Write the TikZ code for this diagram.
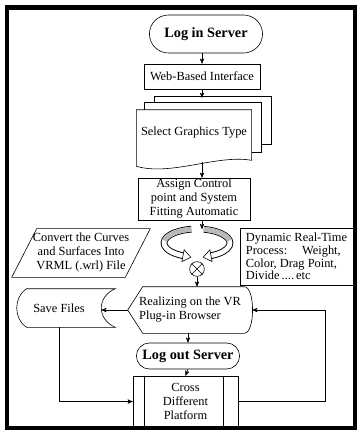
\documentclass[tikz,border=0pt]{standalone}
\usepackage{fontspec}
\setmainfont{Liberation Serif}
\usepackage{tikz}
\usetikzlibrary{arrows, shapes}
\usetikzlibrary{positioning}
\usetikzlibrary{calc}

\begin{document}
\begin{tikzpicture}[->,>=stealth',x=0.75pt,y=-0.75pt,line width=0.45pt,
		font=\fontsize{9.3}{10.5}\selectfont]
		\tikzstyle{box}=[draw,rectangle,align=center,inner sep=1pt]
		\tikzstyle{terminal}=[draw,rounded rectangle,font=\fontsize{10.7}{12}\selectfont\bfseries]
		\tikzstyle{plain}=[-]
		\tikzstyle{ring}=[-,line width=5pt]
		
		\useasboundingbox (0,0) rectangle (359,430);
		\draw[plain,line width=3.5pt] (7,7.5) rectangle (355,428);
		
		\node[terminal,minimum width=91.5pt,minimum height=28.5pt] (A) at (206,34) {Log in Server};
		\node[box,minimum width=87pt,minimum height=18.75pt] (B) at (202,76.5) {Web-Based Interface};
		
		\node[minimum width=81pt,minimum height=34.5pt] (C) at (194,133) {Select Graphics Type};
		\draw[plain] ($(C.north west)+(18,-7)$) |- ($(C.north east)+(20,-13)$) -- ++(0,48) -- ++(-10,0);
		\draw[plain] ($(C.north west)+(8,0)$) |- ($(C.north east)+(10,-7)$) -- ++(0,50) -- ++(-10,0);
		\draw[plain] ($(C.south west)+(0,10)$) -- (C.north west) -- (C.north east) -- ($(C.south east)+(0,4)$)
			.. controls ($(C.south east)+(-35,-2)$) and ($(C.south west)+(35,20)$) .. ($(C.south west)+(0,10)$);
		
		\node[box,minimum width=84pt,minimum height=30pt] (D) at (194,199) {Assign Control\\point and System\\Fitting Automatic};
		
		\coordinate (E) at (202,229);
		\draw[ring] (E) ++(-5,14) ++(260:33 and 14) arc[start angle=260,end angle=115,x radius=33,y radius=14];
		\draw[ring] (E) ++(-5,14) ++(282:33 and 14) arc[start angle=282,end angle=425,x radius=33,y radius=14];
		\draw[ring,line width=3.6pt,white] (E) ++(-5,14) ++(260:33 and 14) arc[start angle=260,end angle=115,x radius=33,y radius=14];
		\draw[ring,line width=3.6pt,white] (E) ++(-5,14) ++(282:33 and 14) arc[start angle=282,end angle=425,x radius=33,y radius=14];
		\draw[ring,line width=3.6pt,gray!55] (E) ++(-5,14) ++(260:33 and 14) arc[start angle=260,end angle=190,x radius=33,y radius=14];
		\draw[ring,line width=3.6pt,gray!55] (E) ++(-5,14) ++(282:33 and 14) arc[start angle=282,end angle=350,x radius=33,y radius=14];
		\draw[plain,fill=white,shift={($(E)+(-19,26.7)$)},rotate=-11] (0,-6) -- (8,0) -- (0,6) -- cycle;
		\draw[plain,fill=white,shift={($(E)+(9,26.7)$)},rotate=191] (0,-6) -- (8,0) -- (0,6) -- cycle;
		\node[circle,draw,minimum size=11pt,inner sep=0pt] (F) at (197,269) {};
		\draw[plain] (F.north west) -- (F.south east) (F.north east) -- (F.south west);
		
		\node[minimum width=103.5pt,minimum height=36pt,align=center] (K) at (81,253) {Convert the Curves\\and Surfaces Into\\VRML (.wrl) File};
		\draw[plain] ($(K.north west)+(25,0)$) -- (K.north east) -- ($(K.south east)+(-25,0)$) -- (K.south west) -- cycle;
		
		\node[box,align=left,minimum width=84.75pt,minimum height=42.75pt,
			font=\fontsize{9.3}{9.6}\selectfont] (L) at (296.5,256.5) {Dynamic Real-Time\\Process:\hspace{1.2em}Weight,\\Color, Drag Point,\\Divide\,....\,etc};
		
		\node[align=left,minimum width=93pt,minimum height=34.5pt] (G) at (190,310) {Realizing on the VR\\Plug-in Browser};
		\draw[plain] (G.west) -- ($(G.north west)+(15,0)$) -- ($(G.north east)+(-8,0)$)
			.. controls ($(G.north east)+(3,0)$) and ($(G.south east)+(3,0)$) .. ($(G.south east)+(-8,0)$)
			-- ($(G.south west)+(15,0)$) -- cycle;
		
		\node[minimum width=63pt,minimum height=28.5pt] (H) at (59,308) {Save Files};
		\draw[plain] ($(H.north west)+(10,0)$) -- ($(H.north east)+(14,0)$)
			.. controls ($(H.north east)+(-4.7,8)$) and ($(H.south east)+(-4.7,-8)$) .. ($(H.south east)+(14,0)$)
			-- ($(H.south west)+(10,0)$)
			.. controls ($(H.south west)+(-3.3,-8)$) and ($(H.north west)+(-3.3,8)$) .. ($(H.north west)+(10,0)$);
		
		\node[terminal,minimum width=75pt,minimum height=19.5pt] (I) at (188,356) {Log out Server};
		\node[box,minimum width=78.75pt,minimum height=38.25pt] (J) at (185.5,401.5) {Cross\\Different\\Platform};
		\draw[plain] ($(J.north west)+(12,0)$) -- ($(J.south west)+(12,0)$)
			($(J.north east)+(-15,0)$) -- ($(J.south east)+(-15,0)$);
		
		\draw (A.south -| B) -- (B.north);
		\draw (B.south) -- ++(0,8.5);
		\draw ($(C.south -| B)+(0,6)$) -- (D.north -| B);
		\draw (D.south -| B) -- (E);
		\draw (F.south) -- (F.south |- G.north);
		\draw (G.south -| I) -- (I.north);
		\draw (I.south) -- (J.north);
		\draw (G.west) -- (G.west -| H.east);
		\draw (H.south) |- (J.west);
		\draw (J.east) -- ++(87,0) |- (G.east);
\end{tikzpicture}
\end{document}
